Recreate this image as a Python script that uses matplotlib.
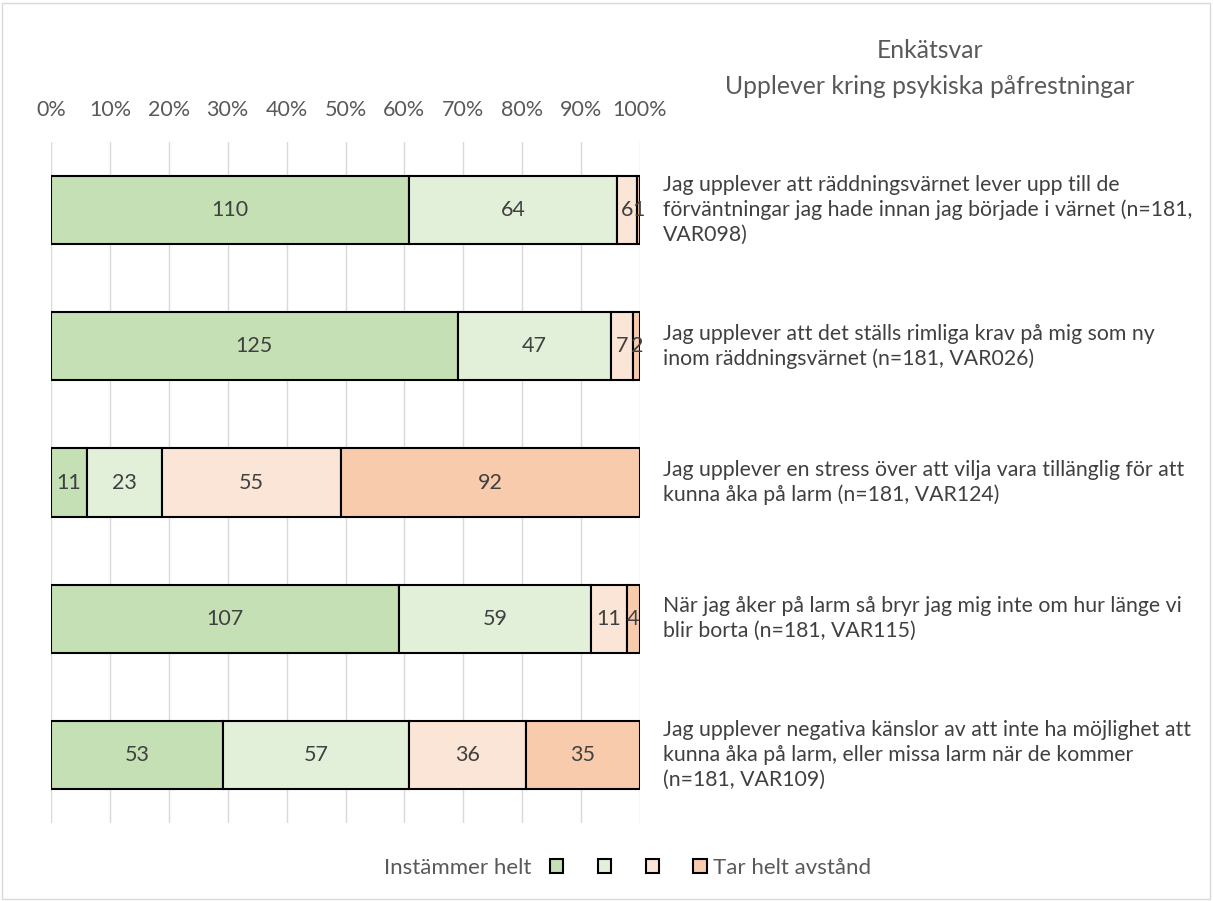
import matplotlib

matplotlib.use("Agg")
import matplotlib.pyplot as plt
from matplotlib.patches import Patch, Rectangle

plt.rcParams["font.family"] = ["Lato", "DejaVu Sans"]

# Survey statements (top to bottom) and answer counts per scale step
STATEMENTS = [
    "Jag upplever att räddningsvärnet lever upp till de\nförväntningar jag hade innan jag började i värnet (n=181,\nVAR098)",
    "Jag upplever att det ställs rimliga krav på mig som ny\ninom räddningsvärnet (n=181, VAR026)",
    "Jag upplever en stress över att vilja vara tillänglig för att\nkunna åka på larm (n=181, VAR124)",
    "När jag åker på larm så bryr jag mig inte om hur länge vi\nblir borta (n=181, VAR115)",
    "Jag upplever negativa känslor av att inte ha möjlighet att\nkunna åka på larm, eller missa larm när de kommer\n(n=181, VAR109)",
]
AGREE_FULLY = [110, 125, 11, 107, 53]
AGREE_PARTLY = [64, 47, 23, 59, 57]
DISAGREE_PARTLY = [6, 7, 55, 11, 36]
DISAGREE_FULLY = [1, 2, 92, 4, 35]

SERIES = [AGREE_FULLY, AGREE_PARTLY, DISAGREE_PARTLY, DISAGREE_FULLY]
SERIES_LABELS = ["", "", "", "Tar helt avstånd"]
COLORS = ["#C5E0B4", "#E2F0D9", "#FBE5D6", "#F8CBAD"]
TICK_LABELS = ["0%", "10%", "20%", "30%", "40%", "50%", "60%", "70%", "80%", "90%", "100%"]

TEXT = "#404040"
LIGHT = "#595959"

fig = plt.figure(figsize=(12.13, 9.01), dpi=100)
ax = fig.add_axes([51 / 1213, 78 / 901, (640 - 51) / 1213, (823 - 142) / 901])

totals = [sum(col) for col in zip(*SERIES)]
ypos = list(range(len(STATEMENTS)))
left = [0.0] * len(STATEMENTS)
for values, color, label in zip(SERIES, COLORS, SERIES_LABELS):
    shares = [v / t for v, t in zip(values, totals)]
    bars = ax.barh(ypos, shares, left=left, height=0.5, color=color,
                   edgecolor="black", linewidth=1.5, label=label, zorder=3)
    for bar, v in zip(bars, values):
        cx = bar.get_x() + bar.get_width() / 2
        cy = bar.get_y() + bar.get_height() / 2
        ax.text(cx, cy, str(v), ha="center", va="center", fontsize=15.5,
                color=TEXT, zorder=4)
    left = [l + s for l, s in zip(left, shares)]

ax.set_xlim(0, 1)
ax.set_ylim(len(STATEMENTS) - 0.5, -0.5)
ax.set_xticks([i / 10 for i in range(11)])
ax.set_xticklabels(TICK_LABELS)
ax.xaxis.tick_top()
ax.tick_params(axis="x", length=0, pad=15.5, labelsize=15.5, labelcolor=LIGHT)
ax.set_yticks([])
ax.grid(axis="x", color="#D9D9D9", linewidth=1, zorder=0)
for s in ax.spines.values():
    s.set_visible(False)

# statement text to the right of each bar
for y, stmt in zip(ypos, STATEMENTS):
    ax.text(1.0 + 23 / 589, y, stmt, ha="left", va="center", fontsize=15.3,
            color=TEXT, linespacing=1.28, transform=ax.get_yaxis_transform(),
            clip_on=False)

fig.text(930 / 1213, 1 - 51 / 901, "Enkätsvar", ha="center", va="center",
         fontsize=17.8, color=LIGHT)
fig.text(930 / 1213, 1 - 86 / 901, "Upplever kring psykiska påfrestningar",
         ha="center", va="center", fontsize=17.8, color=LIGHT)

handles = [Patch(facecolor=c, edgecolor="black", linewidth=1.5) for c in COLORS]
fig.legend(handles, SERIES_LABELS, loc="center left",
           bbox_to_anchor=(550 / 1213, 1 - 868 / 901), ncol=4, frameon=False,
           fontsize=16, handlelength=0.6, handleheight=0.6, handletextpad=0.3,
           columnspacing=1.25, borderpad=0, borderaxespad=0,
           labelcolor=LIGHT)
fig.text(531 / 1213, 1 - 868 / 901, "Instämmer helt", ha="right", va="center",
         fontsize=16, color=LIGHT)

# chart area border
fig.patches.append(Rectangle((2 / 1213, 2 / 901), 1 - 5 / 1213, 1 - 5 / 901,
                             transform=fig.transFigure, fill=False,
                             edgecolor="#D9D9D9", linewidth=1))

fig.savefig("out.png", dpi=100)
